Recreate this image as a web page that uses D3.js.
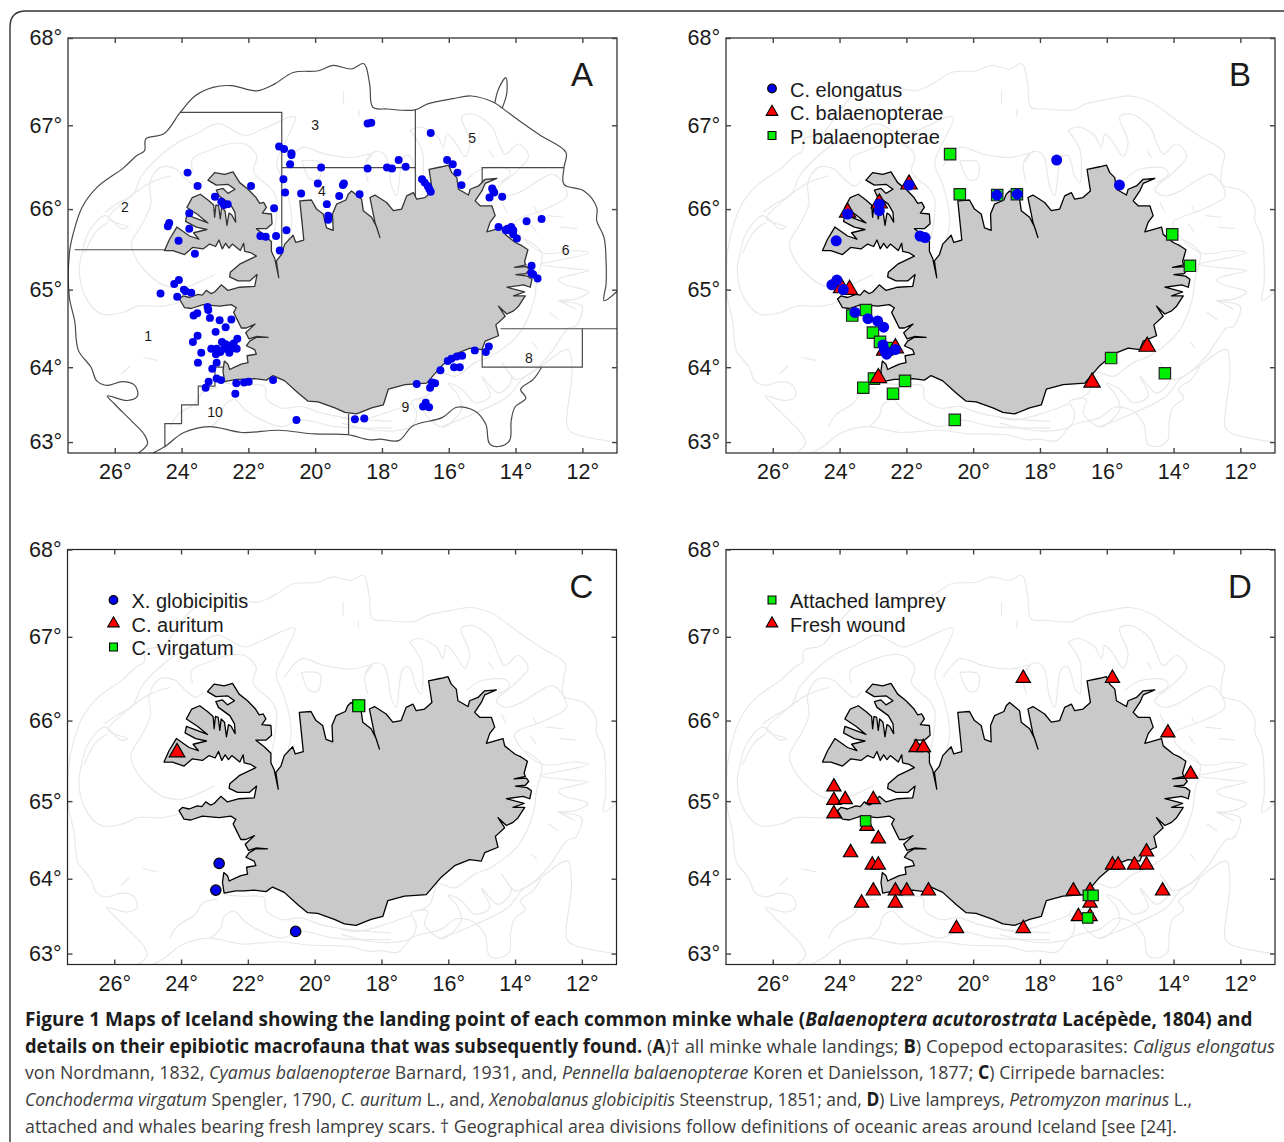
<!DOCTYPE html>
<html>
<head>
<meta charset="utf-8">
<style>
  html, body { margin: 0; background: #fff; }
  svg { display: block; }
  text { font-family: "Liberation Sans", Arial, sans-serif; fill: #1a1a1a; }
  .caption text { font-family: "Open Sans", sans-serif; font-size: 19px; fill: #3c3c3c; }
  .caption .b { font-weight: 700; fill: #1c1c1c; }
  .caption .i { font-style: italic; }
  .axis path { display: none; }
  .axis line { stroke: #444; stroke-width: 1.4; }
</style>
</head>
<body>
<div id="chart"></div>
<script src="https://cdn.jsdelivr.net/npm/d3@7"></script>
<script>
// every position below is [degrees west, degrees north]
const lonTicks = [26, 24, 22, 20, 18, 16, 14, 12];
const latTicks = [68, 67, 66, 65, 64, 63];

const coast = [
  [22.71,63.81],[22.76,63.95],[22.72,64.08],[22.61,64.04],[22.56,63.97],[22.41,64.00],[22.21,64.04],[22.01,64.06],
  [22.04,64.15],[21.76,64.17],[21.81,64.23],[22.06,64.28],[21.96,64.34],[21.76,64.39],[21.41,64.39],[21.76,64.40],
  [21.98,64.37],[22.08,64.45],[21.80,64.56],[22.06,64.51],[22.21,64.51],[22.36,64.64],[22.44,64.71],[22.36,64.77],
  [22.51,64.81],[22.86,64.79],[23.36,64.81],[23.71,64.76],[23.91,64.77],[24.06,64.88],[23.96,64.92],[23.76,64.90],
  [23.51,64.94],[23.38,64.93],[23.26,64.99],[23.12,64.95],[23.01,64.97],[22.81,65.06],[22.61,64.99],[22.26,65.03],
  [21.81,65.04],[21.74,65.19],[21.96,65.11],[22.31,65.11],[22.56,65.16],[22.54,65.22],[22.26,65.32],[21.76,65.42],
  [21.91,65.46],[22.11,65.48],[22.14,65.58],[22.24,65.49],[22.36,65.53],[22.48,65.57],[22.58,65.52],[22.68,65.58],
  [22.78,65.51],[22.88,65.62],[22.98,65.54],[23.16,65.57],[23.36,65.51],[23.66,65.53],[23.91,65.44],[24.26,65.49],
  [24.51,65.49],[24.36,65.63],[24.14,65.78],[23.76,65.67],[23.48,65.63],[23.64,65.71],[23.24,65.75],[23.56,65.78],
  [23.88,65.85],[23.84,65.93],[23.21,65.83],[23.51,65.93],[23.84,66.02],[23.68,66.14],[23.44,66.18],[23.21,66.11],
  [23.04,66.05],[23.01,65.90],[22.97,66.05],[22.89,66.04],[22.84,65.88],[22.80,66.02],[22.70,65.98],[22.64,65.80],
  [22.58,65.95],[22.50,65.93],[22.38,65.84],[22.40,65.96],[22.54,66.06],[22.88,66.16],[22.96,66.23],[22.76,66.25],
  [22.61,66.19],[22.40,66.24],[22.61,66.30],[22.96,66.29],[23.21,66.35],[23.01,66.44],[22.71,66.42],[22.46,66.45],
  [22.26,66.32],[22.01,66.24],[21.77,66.14],[21.66,66.07],[21.54,66.08],[21.46,66.02],[21.58,65.95],[21.31,65.94],
  [21.29,65.82],[21.46,65.76],[21.76,65.76],[21.51,65.68],[21.31,65.60],[21.31,65.48],[21.21,65.39],[21.09,65.15],
  [21.16,65.36],[21.01,65.44],[20.91,65.57],[20.66,65.68],[20.58,65.59],[20.34,65.62],[20.46,66.10],[20.11,66.11],
  [19.96,66.00],[19.76,65.94],[19.66,65.77],[19.46,65.74],[19.48,65.94],[19.36,66.06],[19.08,66.11],[19.01,66.18],
  [18.91,66.22],[18.61,66.12],[18.56,65.98],[18.31,65.90],[18.16,65.78],[18.06,65.65],[18.21,65.84],[18.36,66.14],
  [18.21,66.17],[17.86,66.08],[17.66,65.98],[17.41,66.00],[17.26,66.16],[17.06,66.20],[16.96,66.12],[16.71,66.14],
  [16.49,66.22],[16.59,66.48],[16.21,66.51],[16.01,66.53],[15.91,66.44],[15.76,66.38],[15.71,66.24],[15.41,66.17],
  [15.36,66.24],[15.11,66.28],[14.91,66.36],[14.56,66.37],[14.91,66.31],[15.01,66.22],[15.21,66.10],[15.06,66.04],
  [14.71,66.04],[14.61,65.92],[14.76,65.84],[14.86,65.72],[14.36,65.78],[14.31,65.69],[14.01,65.59],[13.81,65.55],
  [13.63,65.50],[13.73,65.35],[13.69,65.31],[14.03,65.28],[13.66,65.29],[13.59,65.25],[13.69,65.20],[13.99,65.19],
  [13.64,65.17],[13.51,65.13],[13.56,65.03],[13.76,65.06],[14.26,65.03],[13.73,64.97],[14.06,64.92],[13.71,64.92],
  [13.91,64.79],[14.06,64.73],[14.26,64.69],[14.51,64.79],[14.31,64.66],[14.59,64.55],[14.51,64.41],[14.91,64.34],
  [15.01,64.23],[15.36,64.25],[15.81,64.17],[16.21,64.02],[16.66,63.79],[17.31,63.77],[17.81,63.71],[17.96,63.50],
  [18.31,63.46],[18.76,63.38],[19.11,63.40],[19.41,63.46],[19.91,63.54],[20.21,63.55],[20.51,63.66],[20.91,63.82],
  [21.26,63.89],[21.46,63.83],[21.81,63.85],[22.11,63.84],[22.36,63.84]
];

// outer boundary: dark in panel A, a pale depth contour in the others
const outerNorth = [
  [25.29,62.85],[25.02,62.98],[25.13,63.11],[25.51,63.29],[26.00,63.51],[26.22,63.62],[25.62,63.56],[25.32,63.62],
  [25.40,63.76],[25.78,63.81],[26.22,63.76],[26.54,63.82],[26.71,64.00],[27.09,64.22],[27.20,64.60],[27.36,64.91],
  [27.36,65.45],[27.25,65.69],[26.98,66.02],[26.54,66.26],[25.73,66.50],[25.35,66.64],[25.11,66.70],[25.07,66.84],
  [24.53,66.90],[24.04,67.15],[23.60,67.34],[23.06,67.44],[22.51,67.46],[21.75,67.40],[21.21,67.48],[20.66,67.61],
  [19.90,67.63],[19.46,67.69],[18.92,67.65],[18.54,67.71],[18.37,67.48],[18.27,67.21],[17.83,67.19],[17.01,67.18],
  [16.63,67.25],[15.87,67.31],[15.32,67.34],[14.62,67.26],[14.40,67.20],[13.91,67.06],[13.25,66.88],[12.49,66.68],
  [12.55,66.50],[12.55,66.30],[11.95,66.22],[11.57,66.02],[11.57,65.86],[11.35,65.65],[11.29,65.36],[11.29,65.07],
  [11.35,64.86],[10.93,64.99]
];
const outerSouth = [
  [13.22,64.00],[13.47,63.84],[13.85,63.71],[13.69,63.59],[14.02,63.47],[14.13,63.29],[14.18,63.02],[14.51,62.94],
  [14.78,62.98],[14.89,63.24],[15.22,63.42],[15.76,63.47],[16.20,63.33],[17.07,63.22],[17.50,63.02],[18.05,63.04],
  [18.37,63.03],[19.03,63.10],[20.01,63.11],[21.10,63.16],[22.19,63.13],[23.17,63.21],[23.93,63.13],[24.50,62.94],
  [24.86,62.85]
];
const northSpike = [[14.62,67.26],[14.51,67.42],[14.29,67.55],[14.26,67.38],[14.40,67.20]];

const areaLines = [
  [[27.2,65.5],[24.5,65.5]],
  [[24.04,67.15],[21,67.15],[21,65.37]],
  [[21,66.5],[17,66.5]],
  [[17,67.18],[17,66.15]],
  [[15,66.22],[15,66.5],[12.55,66.5]],
  [[14.45,64.5],[10.9,64.5]],
  [[12,64.5],[12,64],[15,64],[15,64.25]],
  [[22.73,64],[23,64],[23,63.75],[23.5,63.75],[23.5,63.5],[24,63.5],[24,63.25],[24.5,63.25],[24.5,62.93]],
  [[19,63.38],[19,63.1]]
];
const areaLabels = ["1", "2", "3", "4", "5", "6", "8", "9", "10"];
const areaLabelPos = [[25,64.4],[25.7,66.03],[20,67],[19.8,66.22],[15.3,66.85],[12.5,65.49],[13.6,64.12],[17.3,63.47],[23,63.4]];

const contours = [
  outerNorth, outerSouth,
  [[17.16,66.94],[16.86,66.98],[16.36,66.88],[16.16,66.74],[16.06,66.90],[15.81,66.80],[15.51,66.63],[15.36,66.80],
   [15.61,67.10],[15.26,67.13],[14.71,66.98],[14.51,66.80],[14.31,66.66],[13.91,66.78],[13.61,66.64],[14.01,66.44],
   [14.56,66.24],[14.31,66.16],[13.91,66.20],[12.91,66.42],[12.66,66.36],[12.46,66.16],[13.11,66.00],[14.01,65.84],
   [13.91,65.71],[13.16,65.46],[12.21,65.49],[11.81,65.46],[12.81,65.36],[13.26,65.32],[12.21,65.26],[11.81,65.24],
   [12.71,65.13],[12.56,65.07],[11.81,64.97],[12.21,64.88],[12.71,64.86],[12.01,64.79],[12.21,64.53],[12.41,64.51],
   [13.01,64.15],[13.51,63.93],[13.81,63.86],[14.01,63.84],[14.41,64.06],[14.11,63.84],[14.51,63.66],[15.01,63.88],
   [14.76,63.62],[15.21,63.53],[15.61,63.71],[16.01,63.79],[15.71,63.62],[15.61,63.44],[16.11,63.21],[16.26,63.21],
   [16.71,63.39],[16.61,63.57],[17.11,63.55],[16.96,63.39],[17.11,63.21],[17.71,63.15],[18.41,63.17],[19.21,63.26]],
  [[18.41,66.32],[18.49,66.56],[18.21,66.69],[17.91,66.65],[17.71,66.28],[17.56,66.16],[17.36,66.62],[17.16,66.64],
   [16.96,66.40],[16.81,66.32],[16.76,66.52],[16.81,66.72],[17.16,66.94]],
  [[15.46,66.36],[15.01,66.48],[14.26,66.49],[14.16,66.42],[14.51,66.32]],
  [[13.71,65.63],[13.21,65.46],[13.36,65.13],[13.46,64.84],[13.91,64.43],[14.71,64.15],[15.21,64.06],[15.81,63.88],
   [16.31,63.93],[16.56,63.66],[16.96,63.57]],
  [[19.21,63.33],[18.71,63.30],[17.91,63.39],[17.11,63.52]],
  [[16.21,63.21],[15.21,63.39],[14.21,63.62],[13.81,63.84],[13.21,64.02],[12.61,64.21],[12.41,64.23],[12.31,63.93],
   [12.46,63.21],[12.31,63.13],[11.01,63.0]],
  [[17.71,63.28],[19.11,63.33],[19.81,63.39],[20.41,63.48],[21.01,63.46],[21.46,63.59],[21.51,63.75],[22.21,63.77],[22.71,63.79]],
  [[17.71,63.19],[19.41,63.21],[20.41,63.30],[21.01,63.21],[21.81,63.35],[22.11,63.44],[22.41,63.57],[22.71,63.50],[22.81,63.35],[23.11,63.21]],
  [[24.33,63.21],[24.11,63.37],[23.57,63.53],[23.35,63.68],[22.91,63.73]],
  [[24.06,64.84],[24.55,64.79],[25.31,64.79],[25.75,64.71],[26.40,64.69],[26.84,64.88],[27.06,65.22],[26.95,65.51],
   [26.79,65.71],[26.29,65.92],[25.80,65.76],[25.59,65.78],[26.19,65.88],[25.69,66.10],[24.93,66.32],[24.33,66.40]],
  [[26.30,65.96],[25.95,66.06],[25.45,66.18],[25.20,66.40],[24.70,66.62],[24.10,66.80],[23.55,66.90],[22.90,67.02],
   [22.10,66.88],[21.55,66.96],[20.60,67.10],[20.90,66.80],[21.15,66.56],[20.90,66.28],[20.75,66.04],[20.70,65.84],[20.80,65.63]],
  [[23.65,66.44],[23.68,66.60],[23.20,66.70],[22.60,66.78],[22.10,66.78],[21.75,66.64],[21.85,66.46],[21.65,66.36],
   [21.30,66.24],[21.15,66.12],[21.18,65.84],[21.30,65.59]],
  [[23.00,65.19],[23.35,65.12],[23.90,65.03],[24.50,65.05],[25.00,65.20],[25.40,65.42],[25.50,65.58],[25.15,65.84],
   [24.92,66.06],[24.95,66.32],[24.65,66.50],[24.20,66.49],[23.85,66.36],[23.55,66.28],[23.35,66.34]],
  [[26.90,65.46],[26.55,65.73],[26.20,65.84]],
  [[20.40,66.58],[19.85,66.56],[19.90,66.36],[20.15,66.36],[20.40,66.58]],
  [[20.90,66.52],[20.40,66.74],[19.70,66.66],[18.90,66.62],[18.30,66.66],[18.49,66.56]],
  [[13.06,65.92],[12.56,65.90]],[[12.66,65.78],[12.16,65.76]],[[13.46,66.04],[13.36,65.96]],[[13.56,65.82],[13.36,65.71]],
  [[14.41,66.08],[14.26,65.96]],[[12.7,64.86],[12.2,64.75]],[[13.0,64.71],[12.7,64.62]],[[13.5,64.32],[13.35,64.25]],
  [[14.8,66.7],[14.65,66.62]],[[25.15,64.13],[24.71,64.09]],[[25.80,63.91],[25.53,64.02]],[[18.69,67.19],[18.69,67.1]],
  [[19.15,67.4],[19.15,67.25]]
];

// panel A: all landings
const landings = [
  [18.43,67.02],[18.32,67.03],[16.54,66.91],[21.08,66.75],[20.93,66.72],[20.71,66.67],[20.71,66.65],[20.75,66.54],
  [19.82,66.50],[18.43,66.49],[17.85,66.50],[17.70,66.49],[17.50,66.59],[17.29,66.51],[16.05,66.59],[15.88,66.54],
  [15.74,66.44],[15.62,66.29],[16.80,66.36],[16.72,66.32],[16.63,66.28],[16.58,66.24],[16.54,66.21],[20.95,66.36],
  [20.90,66.20],[20.42,66.19],[19.92,66.31],[19.14,66.31],[19.17,66.29],[19.28,66.16],[18.67,66.18],[19.65,66.06],
  [19.61,65.92],[19.61,65.87],[21.23,66.01],[20.86,65.74],[21.17,65.67],[21.48,65.66],[21.64,65.67],[21.06,65.49],
  [21.92,66.28],[23.82,66.44],[23.52,66.28],[23.00,66.15],[22.81,66.09],[22.62,66.06],[22.73,66.05],[23.77,65.95],
  [24.37,65.83],[24.41,65.79],[23.77,65.76],[24.09,65.61],[23.60,65.45],[14.70,66.25],[14.64,66.20],[14.78,66.14],
  [14.40,66.15],[14.67,66.22],[13.67,65.85],[13.22,65.88],[14.51,65.78],[14.13,65.78],[14.18,65.74],[14.07,65.69],
  [13.96,65.64],[14.24,65.76],[14.29,65.74],[14.07,65.74],[13.52,65.30],[13.53,65.21],[13.47,65.19],[13.34,65.14],
  [24.08,65.12],[24.22,65.07],[23.93,65.00],[23.88,64.98],[23.71,64.96],[24.63,64.95],[24.13,64.91],[23.22,64.78],
  [23.20,64.74],[23.53,64.70],[23.64,64.67],[23.15,64.64],[22.86,64.61],[22.51,64.62],[22.68,64.52],[22.98,64.46],
  [23.52,64.41],[23.66,64.33],[22.79,64.33],[22.68,64.30],[22.57,64.28],[22.44,64.31],[22.33,64.37],[22.35,64.24],
  [22.51,64.24],[22.57,64.19],[22.73,64.24],[22.95,64.24],[23.11,64.24],[22.97,64.17],[22.84,64.20],[23.41,64.19],
  [23.51,64.06],[22.95,64.06],[23.08,63.98],[22.95,63.85],[22.82,63.83],[23.19,63.81],[23.28,63.73],[22.36,63.79],
  [22.13,63.80],[21.99,63.81],[21.26,63.83],[22.39,63.65],[20.56,63.30],[18.81,63.31],[18.53,63.32],[14.80,64.27],
  [14.89,64.20],[15.22,64.22],[15.60,64.15],[15.76,64.14],[15.92,64.11],[16.03,64.08],[15.84,64.00],[15.67,64.00],
  [16.25,63.96],[16.41,63.79],[16.50,63.80],[16.56,63.73],[16.96,63.78],[16.69,63.53],[16.77,63.48],[16.59,63.47]
];

// panel B: copepods
const elongatus = [
  [17.50,66.59],[15.62,66.29],[19.29,66.17],[18.68,66.18],[21.92,66.29],[22.81,66.06],[22.81,65.98],[23.76,65.94],
  [24.10,65.61],[21.59,65.67],[21.44,65.65],[24.08,65.12],[24.23,65.06],[23.89,65.00],[23.54,64.71],[23.15,64.63],
  [22.86,64.60],[22.68,64.52],[22.70,64.29],[22.65,64.22],[22.59,64.17],[22.33,64.23]
];
const cyamus = [
  [21.92,66.30],[22.81,66.07],[23.76,65.96],[23.94,65.02],[23.70,65.00],[22.33,64.25],[22.65,64.22],[22.84,63.86],
  [16.44,63.80],[14.79,64.27]
];
const pennella = [
  [20.69,66.66],[20.40,66.18],[19.28,66.17],[18.69,66.18],[14.04,65.69],[13.51,65.30],[23.62,64.67],[23.21,64.74],
  [23.00,64.45],[22.79,64.33],[22.54,64.25],[22.97,63.85],[23.29,63.73],[22.04,63.82],[22.40,63.65],[20.55,63.30],
  [15.87,64.12],[14.26,63.92]
];

// panel C: barnacles
const xenobalanus = [[22.86,64.20],[22.96,63.85],[20.57,63.30]];
const auritum = [[24.12,65.61]];
const virgatum = [[18.68,66.18]];

// panel D: lampreys
const freshWound = [
  [18.50,66.51],[15.83,66.51],[14.17,65.85],[21.71,65.67],[21.49,65.67],[13.49,65.34],[24.17,65.18],[24.17,65.01],
  [23.83,65.02],[22.99,65.02],[24.17,64.84],[23.18,64.68],[22.84,64.52],[23.67,64.34],[23.02,64.18],[22.84,64.18],
  [22.99,63.84],[22.33,63.84],[21.99,63.84],[21.34,63.84],[23.34,63.68],[22.33,63.68],[20.50,63.34],[18.50,63.34],
  [17.00,63.84],[16.50,63.84],[16.50,63.68],[16.85,63.50],[16.50,63.50],[15.83,64.18],[15.66,64.18],[15.17,64.18],
  [14.81,64.18],[14.81,64.35],[14.33,63.84]
];
const attached = [[23.22,64.75],[16.55,63.78],[16.41,63.78],[16.57,63.48]];

const captionLines = [
  [["b", "Figure 1 Maps of Iceland showing the landing point of each common minke whale ("], ["bi", "Balaenoptera acutorostrata"], ["b", " Lacépède, 1804) and"]],
  [["b", "details on their epibiotic macrofauna that was subsequently found."], ["", " ("], ["b", "A"], ["", ")† all minke whale landings; "], ["b", "B"], ["", ") Copepod ectoparasites: "], ["i", "Caligus elongatus"]],
  [["", "von Nordmann, 1832, "], ["i", "Cyamus balaenopterae"], ["", " Barnard, 1931, and, "], ["i", "Pennella balaenopterae"], ["", " Koren et Danielsson, 1877; "], ["b", "C"], ["", ") Cirripede barnacles:"]],
  [["i", "Conchoderma virgatum"], ["", " Spengler, 1790, "], ["i", "C. auritum"], ["", " L., and, "], ["i", "Xenobalanus globicipitis"], ["", " Steenstrup, 1851; and, "], ["b", "D"], ["", ") Live lampreys, "], ["i", "Petromyzon marinus"], ["", " L.,"]],
  [["", "attached and whales bearing fresh lamprey scars. † Geographical area divisions follow definitions of oceanic areas around Iceland [see [24]."]]
];
const captionRight = [1253, 1276, 1165, 1192, 1178];

const colors = {blue: "#0000ee", red: "#ff0000", green: "#00ee00", land: "#c9c9c9", contour: "#e8e8e8"};
const pxPerDegree = 33.4;
const mapW = 549, mapH = 415;

const svg = d3.select("#chart").append("svg")
  .attr("width", 1284)
  .attr("height", 1142);

// card outline, open on the right and at the bottom
svg.append("path")
  .attr("d", "M10,1142V27Q10,11 26,11H1284")
  .attr("fill", "none")
  .attr("stroke", "#333")
  .attr("stroke-width", 1.4);

const projection = d3.geoMercator()
  .scale(pxPerDegree * 180 / Math.PI)
  .center([-27.4, 68])
  .translate([0, 0]);
const project = d => projection([-d[0], d[1]]);

const x = d3.scaleLinear().domain([26, 12]).range([project([26, 68])[0], project([12, 68])[0]]);
const y = d3.scaleLinear().domain(latTicks).range(latTicks.map(lat => project([20, lat])[1]));
const line = d3.line().x(d => project(d)[0]).y(d => project(d)[1]);
const smoothLine = d3.line().x(d => project(d)[0]).y(d => project(d)[1]).curve(d3.curveCatmullRom.alpha(0.5));
const symbol = (type, size) => d3.symbol().type(type).size(size)();

function drawPoints(g, data, type, size, fill, stroke) {
  g.append("g").selectAll("path")
    .data(data)
    .join("path")
      .attr("transform", d => `translate(${project(d)})`)
      .attr("d", symbol(type, size))
      .attr("fill", fill)
      .attr("stroke", stroke)
      .attr("stroke-width", stroke === "none" ? 0 : 1.2);
}

function drawPanel(name, left, top, legend) {
  const g = svg.append("g").attr("transform", `translate(${left},${top})`);
  const clipId = "clip" + name;
  g.append("clipPath").attr("id", clipId).append("rect").attr("width", mapW).attr("height", mapH);
  const map = g.append("g").attr("clip-path", `url(#${clipId})`);

  map.append("g").selectAll("path")
    .data(name === "A" ? contours.slice(2) : contours)
    .join("path")
      .attr("d", smoothLine)
      .attr("fill", "none")
      .attr("stroke", colors.contour)
      .attr("stroke-width", 1.2);

  if (name === "A") {
    map.append("g").selectAll("path")
      .data([outerNorth, outerSouth, northSpike])
      .join("path")
        .attr("d", smoothLine)
        .attr("fill", "none")
        .attr("stroke", "#4a4a4a")
        .attr("stroke-width", 1.2);
    map.append("g").selectAll("path")
      .data(areaLines)
      .join("path")
        .attr("d", line)
        .attr("fill", "none")
        .attr("stroke", "#4a4a4a")
        .attr("stroke-width", 1.2);
  }

  map.append("path")
    .attr("d", line(coast) + "Z")
    .attr("fill", colors.land)
    .attr("stroke", name === "A" ? "#333" : "#000")
    .attr("stroke-width", 1.3)
    .attr("stroke-linejoin", "round");

  if (name === "A") {
    map.append("g").selectAll("text")
      .data(areaLabels)
      .join("text")
        .attr("transform", (d, i) => `translate(${project(areaLabelPos[i])})`)
        .attr("text-anchor", "middle")
        .attr("dy", "0.35em")
        .attr("font-size", 14)
        .text(d => d);
    drawPoints(map, landings, d3.symbolCircle, 50, colors.blue, "none");
  }
  if (name === "B") {
    drawPoints(map, pennella, d3.symbolSquare, 130, colors.green, "#222");
    drawPoints(map, cyamus, d3.symbolTriangle, 115, colors.red, "#000");
    drawPoints(map, elongatus, d3.symbolCircle, 95, colors.blue, "none");
  }
  if (name === "C") {
    drawPoints(map, virgatum, d3.symbolSquare, 144, colors.green, "#000");
    drawPoints(map, auritum, d3.symbolTriangle, 105, colors.red, "#000");
    drawPoints(map, xenobalanus, d3.symbolCircle, 85, colors.blue, "#000");
  }
  if (name === "D") {
    drawPoints(map, freshWound, d3.symbolTriangle, 88, colors.red, "#000");
    drawPoints(map, attached, d3.symbolSquare, 110, colors.green, "#222");
  }

  g.append("rect")
    .attr("width", mapW)
    .attr("height", mapH)
    .attr("fill", "none")
    .attr("stroke", "#222")
    .attr("stroke-width", 1.2);

  const bottomAxis = g.append("g").attr("class", "axis")
    .attr("transform", `translate(0,${mapH})`)
    .call(d3.axisBottom(x).tickValues(lonTicks).tickSize(-5).tickPadding(8).tickFormat(d => d + "°"));
  bottomAxis.selectAll("text").attr("font-size", 21.5).attr("dy", "0.85em");
  g.append("g").attr("class", "axis")
    .call(d3.axisTop(x).tickValues(lonTicks).tickSize(-5).tickFormat(""));
  const leftAxis = g.append("g").attr("class", "axis")
    .call(d3.axisLeft(y).tickValues(latTicks).tickSize(-5).tickPadding(6).tickFormat(d => d + "°"));
  leftAxis.selectAll("text").attr("font-size", 21.5);
  g.append("g").attr("class", "axis")
    .attr("transform", `translate(${mapW},0)`)
    .call(d3.axisRight(y).tickValues(latTicks).tickSize(-5).tickFormat(""));
  g.selectAll(".axis text").style("font-family", '"Liberation Sans", Arial, sans-serif').style("fill", "#1a1a1a");

  g.append("text")
    .attr("x", 514)
    .attr("y", 48)
    .attr("text-anchor", "middle")
    .attr("font-size", 33)
    .text(name);

  // legend entries are placed in pixels relative to the frame
  legend.forEach((e, i) => {
    g.append("path")
      .attr("transform", `translate(46,${50.5 + i * 23.5})`)
      .attr("d", symbol(e.type, e.size))
      .attr("fill", e.fill)
      .attr("stroke", "#000")
      .attr("stroke-width", 1.1);
    g.append("text")
      .attr("x", 64)
      .attr("y", 51.5 + i * 23.5)
      .attr("dy", "0.35em")
      .attr("font-size", 20)
      .text(e.label);
  });
}

const circleKey = {type: d3.symbolCircle, size: 60, fill: colors.blue};
const triangleKey = {type: d3.symbolTriangle, size: 58, fill: colors.red};
const squareKey = {type: d3.symbolSquare, size: 62, fill: colors.green};

drawPanel("A", 68, 38, []);
drawPanel("B", 726, 38, [
  {...circleKey, label: "C. elongatus"},
  {...triangleKey, label: "C. balaenopterae"},
  {...squareKey, label: "P. balaenopterae"}
]);
drawPanel("C", 67.5, 549.5, [
  {...circleKey, label: "X. globicipitis"},
  {...triangleKey, label: "C. auritum"},
  {...squareKey, label: "C. virgatum"}
]);
drawPanel("D", 726, 549.5, [
  {...squareKey, label: "Attached lamprey"},
  {...triangleKey, label: "Fresh wound"}
]);

// caption: one text per line, squeezed to the width of the printed line
const caption = svg.append("g").attr("class", "caption");
captionLines.forEach((runs, i) => {
  const t = caption.append("text");
  runs.forEach(([style, str]) => {
    t.append("tspan")
      .attr("class", style.split("").join(" "))
      .attr("xml:space", "preserve")
      .text(str);
  });
  t.style("white-space", "pre");
  const baseline = 1026 + i * 26.7;
  const w = t.node().getComputedTextLength();
  t.attr("transform", `translate(25,${baseline}) scale(${(captionRight[i] - 25) / w},1)`);
});
</script>
</body>
</html>
